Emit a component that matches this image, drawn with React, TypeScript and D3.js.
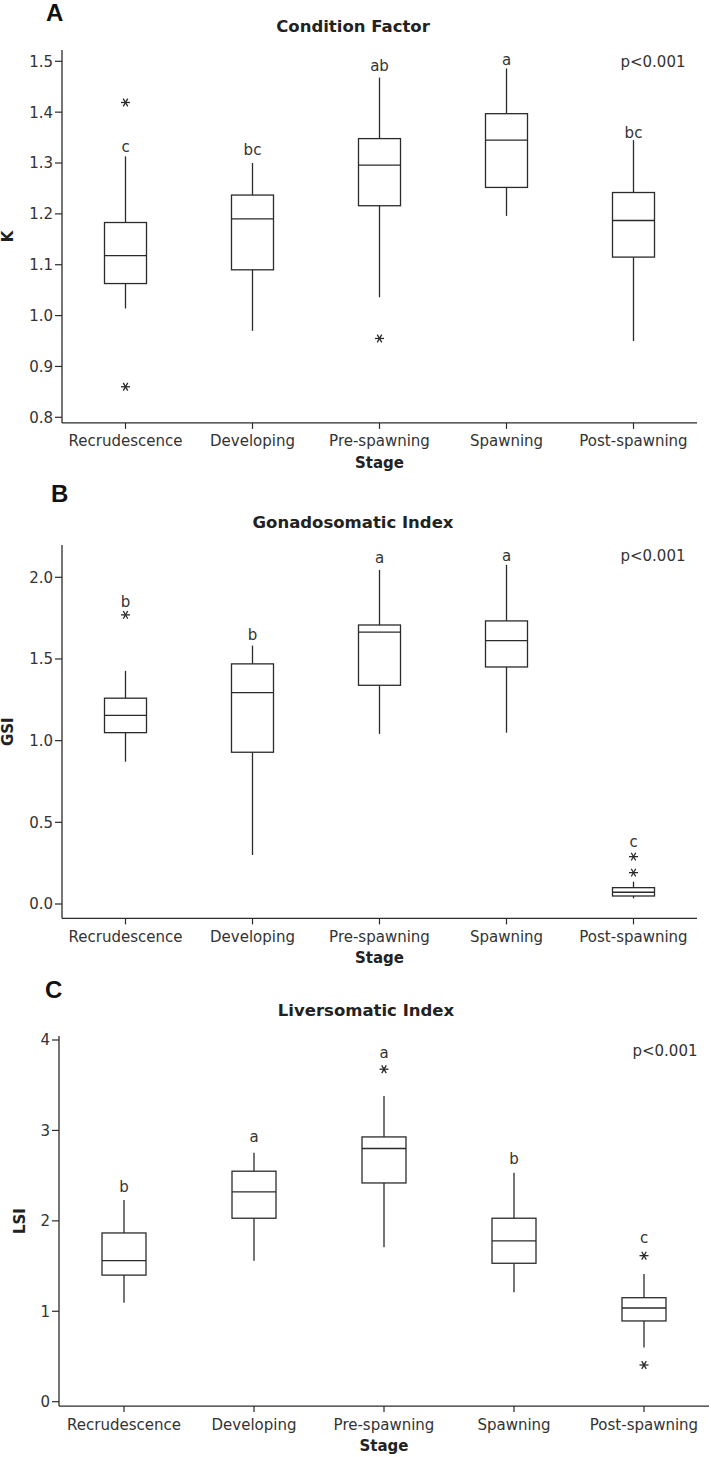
import React from 'react';
import * as d3 from 'd3';

// ---------- data ----------
const stages = ['Recrudescence', 'Developing', 'Pre-spawning', 'Spawning', 'Post-spawning'];

// Condition factor (K)
const kMin = [1.014, 0.97, 1.036, 1.196, 0.95];
const kQ1 = [1.063, 1.09, 1.216, 1.252, 1.115];
const kMedian = [1.118, 1.19, 1.296, 1.345, 1.187];
const kQ3 = [1.183, 1.237, 1.348, 1.397, 1.242];
const kMax = [1.313, 1.30, 1.468, 1.486, 1.345];
const kOutliers = [[1.419, 0.86], [], [0.955], [], []];
const kLetters = ['c', 'bc', 'ab', 'a', 'bc'];
const kLetterAt = [1.321, 1.316, 1.481, 1.493, 1.350];
const kTicks = [0.8, 0.9, 1.0, 1.1, 1.2, 1.3, 1.4, 1.5];

// Gonadosomatic index (GSI)
const gsiMin = [0.871, 0.30, 1.041, 1.049, 0.035];
const gsiQ1 = [1.049, 0.929, 1.339, 1.451, 0.049];
const gsiMedian = [1.155, 1.294, 1.664, 1.612, 0.072];
const gsiQ3 = [1.26, 1.47, 1.708, 1.733, 0.10];
const gsiMax = [1.427, 1.582, 2.045, 2.076, 0.137];
const gsiOutliers = [[1.77], [], [], [], [0.192, 0.29]];
const gsiLetters = ['b', 'b', 'a', 'a', 'c'];
const gsiLetterAt = [1.821, 1.617, 2.086, 2.102, 0.351];
const gsiTicks = [0.0, 0.5, 1.0, 1.5, 2.0];

// Liversomatic index (LSI)
const lsiMin = [1.095, 1.56, 1.708, 1.21, 0.60];
const lsiQ1 = [1.40, 2.029, 2.419, 1.531, 0.893];
const lsiMedian = [1.56, 2.32, 2.80, 1.778, 1.036];
const lsiQ3 = [1.866, 2.549, 2.928, 2.029, 1.15];
const lsiMax = [2.23, 2.754, 3.382, 2.533, 1.413];
const lsiOutliers = [[], [], [3.677], [], [1.615, 0.406]];
const lsiLetters = ['b', 'a', 'a', 'b', 'c'];
const lsiLetterAt = [2.316, 2.869, 3.799, 2.629, 1.752];
const lsiTicks = [0, 1, 2, 3, 4];

const pText = 'p<0.001';

// ---------- styling ----------
const INK = '#2b2b2b';
const FONT = "'DejaVu Sans', Verdana, sans-serif";

interface PanelProps {
  letter: string;
  title: string;
  yLabel: string;
  mins: number[];
  q1: number[];
  med: number[];
  q3: number[];
  maxs: number[];
  outliers: number[][];
  letters: string[];
  letterAt: number[];
  ticks: number[];
  tickFmt: (v: number) => string;
  domain: [number, number];
  range: [number, number];
  axisExt: [number, number];
  xLeft: number;
  xRight: number;
  boxW: number;
  letterX: number;
  letterY: number;
  titleX: number;
  titleY: number;
  yLabelX: number;
  pY: number;
}

const Asterisk = ({ x, y }: { x: number; y: number }) => {
  const r = 4.5;
  const angles = [0, 60, 120];
  return (
    <g>
      {angles.map((a) => {
        const rad = (a * Math.PI) / 180;
        const dx = r * Math.cos(rad);
        const dy = r * Math.sin(rad);
        return (
          <line key={a} x1={x - dx} y1={y - dy} x2={x + dx} y2={y + dy} stroke={INK} strokeWidth={1.3} />
        );
      })}
    </g>
  );
};

const Panel = (p: PanelProps) => {
  const y = d3.scaleLinear().domain(p.domain).range(p.range);
  const x = d3.scaleBand<string>().domain(stages).range([p.xLeft, p.xRight]).padding(0);
  const axisBottom = y(p.axisExt[0]);
  const axisTop = y(p.axisExt[1]);
  const yMid = (axisTop + axisBottom) / 2;
  const xMid = (p.xLeft + p.xRight) / 2;
  return (
    <g>
      <text x={p.letterX} y={p.letterY} fontFamily="'Liberation Sans', Arial, sans-serif" fontWeight="bold" fontSize={24} fill="#111">
        {p.letter}
      </text>
      <text x={p.titleX} y={p.titleY} textAnchor="middle" fontFamily={FONT} fontWeight="bold" fontSize={16.5} fill="#222">
        {p.title}
      </text>
      {/* axes */}
      <line x1={p.xLeft} y1={axisTop} x2={p.xLeft} y2={axisBottom} stroke={INK} strokeWidth={1.3} />
      <line x1={p.xLeft} y1={axisBottom} x2={p.xRight} y2={axisBottom} stroke={INK} strokeWidth={1.3} />
      {p.ticks.map((t) => (
        <g key={t}>
          <line x1={p.xLeft - 7} x2={p.xLeft} y1={y(t)} y2={y(t)} stroke={INK} strokeWidth={1.2} />
          <text x={p.xLeft - 9} y={y(t)} dy="0.36em" textAnchor="end" fontFamily={FONT} fontSize={15} fill="#333">
            {p.tickFmt(t)}
          </text>
        </g>
      ))}
      {stages.map((s) => {
        const cx = x(s)! + x.bandwidth() / 2;
        return (
          <g key={s}>
            <line x1={cx} x2={cx} y1={axisBottom} y2={axisBottom + 6} stroke={INK} strokeWidth={1.2} />
            <text x={cx} y={axisBottom + 23.5} textAnchor="middle" fontFamily={FONT} fontSize={15} fill="#333">
              {s}
            </text>
          </g>
        );
      })}
      <text x={xMid} y={axisBottom + 45} textAnchor="middle" fontFamily={FONT} fontWeight="bold" fontSize={15} fill="#222">
        Stage
      </text>
      <text
        transform={`translate(${p.yLabelX},${yMid}) rotate(-90)`}
        textAnchor="middle"
        dy="0.36em"
        fontFamily={FONT}
        fontWeight="bold"
        fontSize={15}
        fill="#222"
      >
        {p.yLabel}
      </text>
      <text x={p.xRight - 44} y={p.pY} textAnchor="middle" fontFamily={FONT} fontSize={15} fill="#333">
        {pText}
      </text>
      {/* boxes */}
      {stages.map((s, i) => {
        const cx = x(s)! + x.bandwidth() / 2;
        const hw = p.boxW / 2;
        const outs = p.outliers[i];
        return (
          <g key={s}>
            <line x1={cx} x2={cx} y1={y(p.maxs[i])} y2={y(p.q3[i])} stroke={INK} strokeWidth={1.3} />
            <line x1={cx} x2={cx} y1={y(p.q1[i])} y2={y(p.mins[i])} stroke={INK} strokeWidth={1.3} />
            <rect
              x={cx - hw}
              y={y(p.q3[i])}
              width={p.boxW}
              height={y(p.q1[i]) - y(p.q3[i])}
              fill="white"
              stroke={INK}
              strokeWidth={1.3}
            />
            <line x1={cx - hw} x2={cx + hw} y1={y(p.med[i])} y2={y(p.med[i])} stroke={INK} strokeWidth={1.3} />
            {outs.map((o, j) => (
              <Asterisk key={j} x={cx} y={y(o)} />
            ))}
            <text x={cx} y={y(p.letterAt[i])} textAnchor="middle" fontFamily={FONT} fontSize={15} fill="#333">
              {p.letters[i]}
            </text>
          </g>
        );
      })}
    </g>
  );
};

export default function App() {
  const f1 = d3.format('.1f');
  const f0 = d3.format('d');
  return (
    <svg
      width={711}
      height={1457}
      style={{ position: 'absolute', left: 0, top: 0, background: 'white' }}
      xmlns="http://www.w3.org/2000/svg"
    >
      <rect width={711} height={1457} fill="white" />
      <Panel
        letter="A"
        title="Condition Factor"
        yLabel="K"
        mins={kMin}
        q1={kQ1}
        med={kMedian}
        q3={kQ3}
        maxs={kMax}
        outliers={kOutliers}
        letters={kLetters}
        letterAt={kLetterAt}
        ticks={kTicks}
        tickFmt={f1}
        domain={[0.8, 1.5]}
        range={[417.3, 61.3]}
        axisExt={[0.789, 1.522]}
        xLeft={62}
        xRight={697}
        boxW={42}
        letterX={46}
        letterY={21}
        titleX={353}
        titleY={32}
        yLabelX={8}
        pY={67}
      />
      <Panel
        letter="B"
        title="Gonadosomatic Index"
        yLabel="GSI"
        mins={gsiMin}
        q1={gsiQ1}
        med={gsiMedian}
        q3={gsiQ3}
        maxs={gsiMax}
        outliers={gsiOutliers}
        letters={gsiLetters}
        letterAt={gsiLetterAt}
        ticks={gsiTicks}
        tickFmt={f1}
        domain={[0, 2]}
        range={[904, 577.3]}
        axisExt={[-0.088, 2.198]}
        xLeft={62}
        xRight={697}
        boxW={42}
        letterX={51}
        letterY={502}
        titleX={353}
        titleY={528}
        yLabelX={8}
        pY={561}
      />
      <Panel
        letter="C"
        title="Liversomatic Index"
        yLabel="LSI"
        mins={lsiMin}
        q1={lsiQ1}
        med={lsiMedian}
        q3={lsiQ3}
        maxs={lsiMax}
        outliers={lsiOutliers}
        letters={lsiLetters}
        letterAt={lsiLetterAt}
        ticks={lsiTicks}
        tickFmt={f0}
        domain={[0, 4]}
        range={[1401.7, 1040]}
        axisExt={[-0.048, 4.044]}
        xLeft={59}
        xRight={709}
        boxW={44}
        letterX={45}
        letterY={998}
        titleX={366}
        titleY={1016}
        yLabelX={20}
        pY={1056}
      />
    </svg>
  );
}
